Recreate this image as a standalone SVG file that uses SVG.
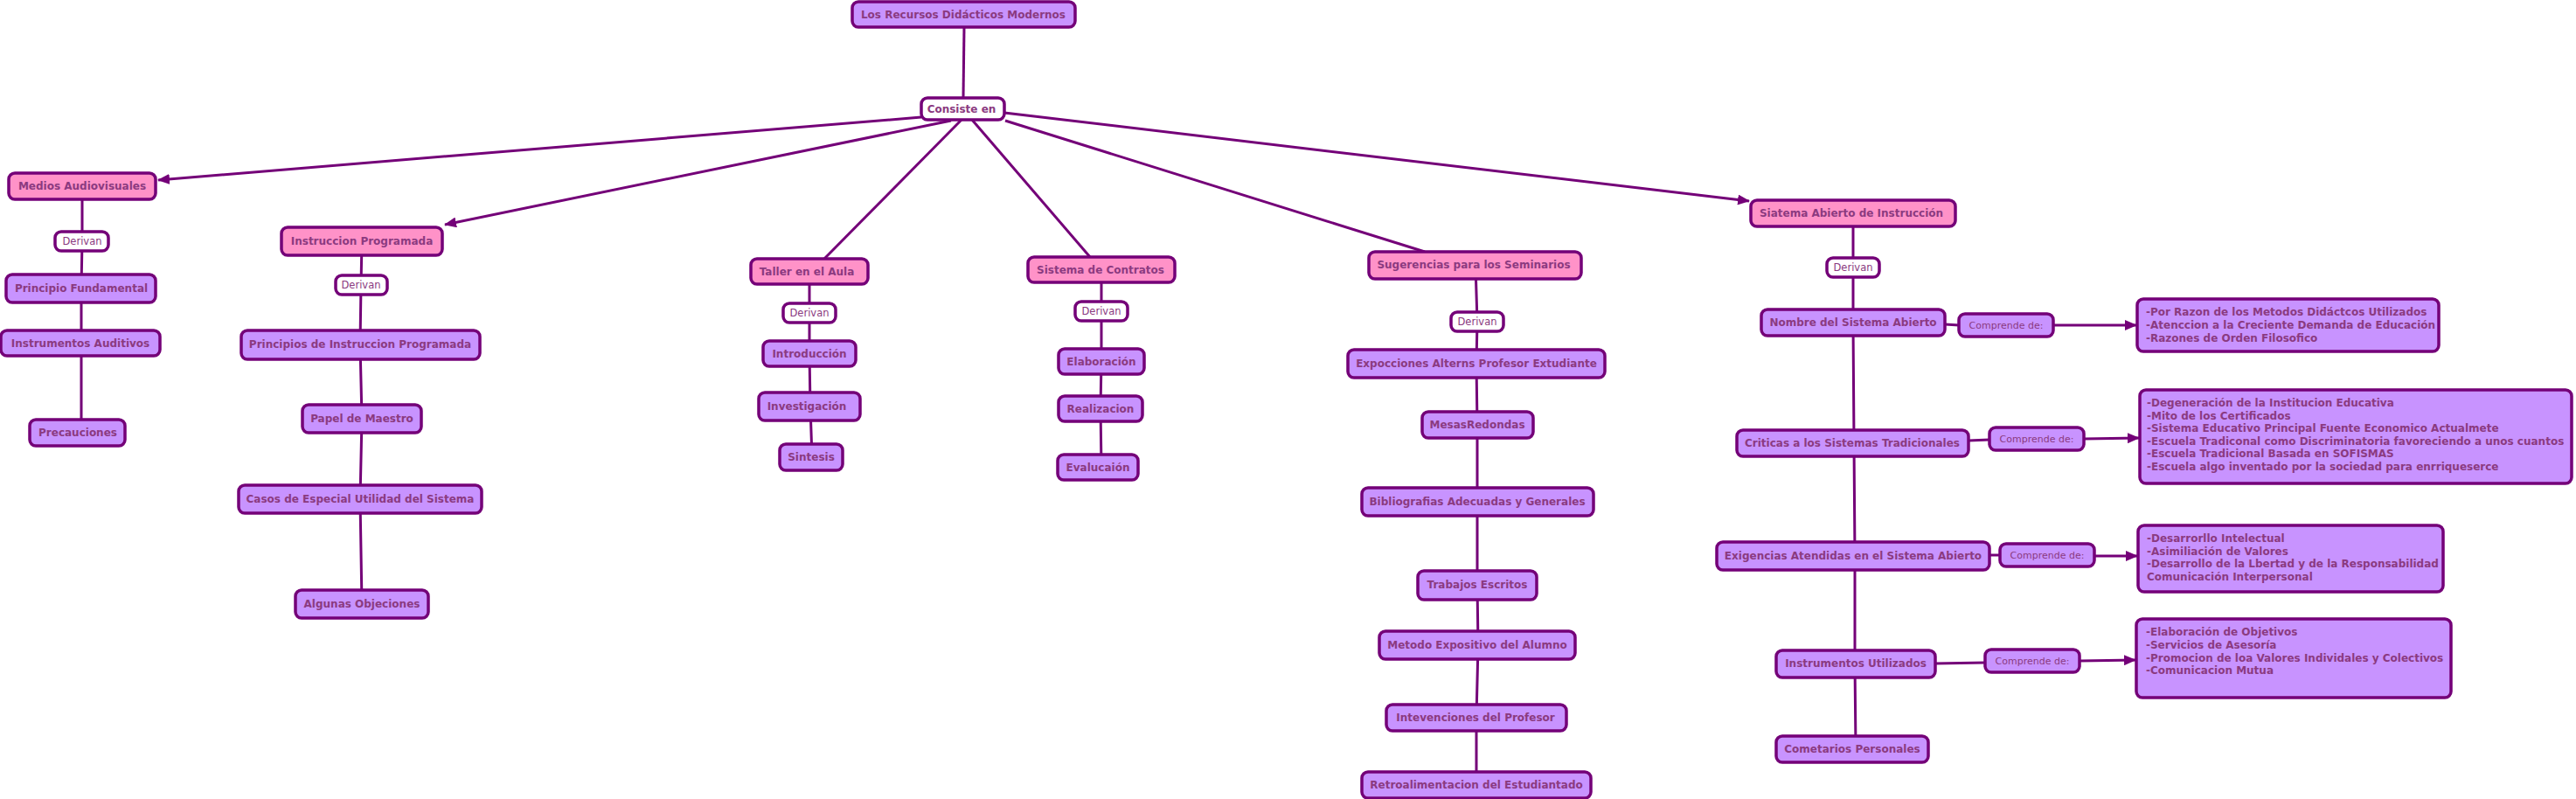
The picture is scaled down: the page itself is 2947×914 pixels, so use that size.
<svg xmlns="http://www.w3.org/2000/svg" width="2947" height="914" viewBox="0 0 2947 914">
<style>
.ln{stroke:#740078;stroke-width:3;fill:none}
.bx{stroke:#740078;stroke-width:3.5}
.pk{fill:#FF92C8}
.lv{fill:#C893FF}
.wh{fill:#FFFFFF}
.t{font-family:"DejaVu Sans",Verdana,sans-serif;font-size:12px;font-weight:bold;fill:#8B3A80;text-anchor:middle}
.tl{font-family:"DejaVu Sans",Verdana,sans-serif;font-size:12px;font-weight:bold;fill:#8B3A80}
.tn{font-family:"DejaVu Sans",Verdana,sans-serif;font-size:11.5px;fill:#8B3A80;text-anchor:middle}
.tc{font-family:"DejaVu Sans",Verdana,sans-serif;font-size:11px;fill:#8B3A80;text-anchor:middle}
</style>
<defs>
<marker id="ah" viewBox="0 0 14 12" refX="13" refY="6" markerWidth="14" markerHeight="12" markerUnits="userSpaceOnUse" orient="auto">
<path d="M0,0 L14,6 L0,12 z" fill="#740078"/>
</marker>
</defs>
<rect width="2947" height="914" fill="#FFFFFF"/>
<g id="connectors">
<line class="ln" x1="1103" y1="31" x2="1102" y2="112"/>
<line class="ln" x1="1054" y1="134" x2="181" y2="206" marker-end="url(#ah)"/>
<line class="ln" x1="1088" y1="138" x2="509" y2="257" marker-end="url(#ah)"/>
<line class="ln" x1="1100" y1="137" x2="943" y2="296"/>
<line class="ln" x1="1112" y1="137" x2="1247" y2="294"/>
<line class="ln" x1="1150" y1="138" x2="1630" y2="288"/>
<line class="ln" x1="1149" y1="129" x2="2001" y2="230" marker-end="url(#ah)"/>
<polyline class="ln" points="94,213 94,276 93,330 93,392 93,495"/>
<polyline class="ln" points="414,276 413,326 412,394 414,479 412,571 414,691"/>
<polyline class="ln" points="926,310 926,358 926,404 927,465 929,523"/>
<polyline class="ln" points="1260,308 1260,356 1260,413 1259,467 1260,534"/>
<polyline class="ln" points="1688,303 1690,368 1689,416 1690,486 1690,574 1690,669 1691,738 1689,821 1689,898"/>
<polyline class="ln" points="2120,244 2120,306 2120,369 2121,507 2122,636 2122,759 2123,857"/>
<line class="ln" x1="2225" y1="371" x2="2241" y2="372"/>
<line class="ln" x1="2349" y1="372" x2="2444" y2="372" marker-end="url(#ah)"/>
<line class="ln" x1="2252" y1="504" x2="2276" y2="503"/>
<line class="ln" x1="2384" y1="502" x2="2447" y2="501" marker-end="url(#ah)"/>
<line class="ln" x1="2276" y1="635" x2="2288" y2="635"/>
<line class="ln" x1="2396" y1="636" x2="2445" y2="636" marker-end="url(#ah)"/>
<line class="ln" x1="2214" y1="759" x2="2271" y2="758"/>
<line class="ln" x1="2379" y1="756" x2="2443" y2="755" marker-end="url(#ah)"/>
</g>
<g id="n-root"><rect class="bx lv" x="975" y="2" width="255" height="29" rx="7"/><text class="t" x="1102" y="21">Los Recursos Didácticos Modernos</text></g>
<g id="n-consiste"><rect class="bx wh" x="1054" y="112" width="95" height="25" rx="7"/><text class="t" x="1100" y="129">Consiste en</text></g>

<g id="n-medios"><rect class="bx pk" x="10" y="198" width="168" height="30" rx="7"/><text class="t" x="94" y="217">Medios Audiovisuales</text></g>
<g id="n-der1"><rect class="bx wh" x="63" y="265" width="61" height="22" rx="7"/><text class="tn" x="94" y="280">Derivan</text></g>
<g id="n-principio"><rect class="bx lv" x="7" y="314" width="171" height="32" rx="7"/><text class="t" x="93" y="334">Principio Fundamental</text></g>
<g id="n-instaud"><rect class="bx lv" x="1" y="378" width="182" height="29" rx="7"/><text class="t" x="92" y="397">Instrumentos Auditivos</text></g>
<g id="n-precauciones"><rect class="bx lv" x="34" y="480" width="109" height="30" rx="7"/><text class="t" x="89" y="499">Precauciones</text></g>

<g id="n-instprog"><rect class="bx pk" x="322" y="260" width="184" height="32" rx="7"/><text class="t" x="414" y="280">Instruccion Programada</text></g>
<g id="n-der2"><rect class="bx wh" x="384" y="315" width="59" height="22" rx="7"/><text class="tn" x="413" y="330">Derivan</text></g>
<g id="n-principios"><rect class="bx lv" x="276" y="378" width="273" height="33" rx="7"/><text class="t" x="412" y="398">Principios de Instruccion Programada</text></g>
<g id="n-papel"><rect class="bx lv" x="346" y="463" width="136" height="32" rx="7"/><text class="t" x="414" y="483">Papel de Maestro</text></g>
<g id="n-casos"><rect class="bx lv" x="273" y="555" width="278" height="32" rx="7"/><text class="t" x="412" y="575">Casos de Especial Utilidad del Sistema</text></g>
<g id="n-algunas"><rect class="bx lv" x="338" y="675" width="152" height="32" rx="7"/><text class="t" x="414" y="695">Algunas Objeciones</text></g>

<g id="n-taller"><rect class="bx pk" x="859" y="296" width="134" height="29" rx="7"/><text class="t" x="923" y="315">Taller en el Aula</text></g>
<g id="n-der3"><rect class="bx wh" x="896" y="347" width="60" height="22" rx="7"/><text class="tn" x="926" y="362">Derivan</text></g>
<g id="n-intro"><rect class="bx lv" x="873" y="390" width="106" height="29" rx="7"/><text class="t" x="926" y="409">Introducción</text></g>
<g id="n-invest"><rect class="bx lv" x="868" y="449" width="116" height="32" rx="7"/><text class="t" x="923" y="469">Investigación</text></g>
<g id="n-sintesis"><rect class="bx lv" x="892" y="508" width="72" height="30" rx="7"/><text class="t" x="928" y="527">Sintesis</text></g>

<g id="n-contratos"><rect class="bx pk" x="1176" y="294" width="168" height="29" rx="7"/><text class="t" x="1259" y="313">Sistema de Contratos</text></g>
<g id="n-der4"><rect class="bx wh" x="1230" y="345" width="60" height="22" rx="7"/><text class="tn" x="1260" y="360">Derivan</text></g>
<g id="n-elab"><rect class="bx lv" x="1211" y="399" width="98" height="29" rx="7"/><text class="t" x="1260" y="418">Elaboración</text></g>
<g id="n-realiz"><rect class="bx lv" x="1211" y="453" width="96" height="29" rx="7"/><text class="t" x="1259" y="472">Realizacion</text></g>
<g id="n-evalu"><rect class="bx lv" x="1210" y="520" width="92" height="29" rx="7"/><text class="t" x="1256" y="539">Evalucaión</text></g>

<g id="n-sugerencias"><rect class="bx pk" x="1566" y="288" width="243" height="31" rx="7"/><text class="t" x="1686" y="307">Sugerencias para los Seminarios</text></g>
<g id="n-der5"><rect class="bx wh" x="1660" y="357" width="60" height="22" rx="7"/><text class="tn" x="1690" y="372">Derivan</text></g>
<g id="n-expoc"><rect class="bx lv" x="1542" y="400" width="294" height="32" rx="7"/><text class="t" x="1689" y="420">Expocciones Alterns Profesor Extudiante</text></g>
<g id="n-mesas"><rect class="bx lv" x="1627" y="471" width="127" height="30" rx="7"/><text class="t" x="1690" y="490">MesasRedondas</text></g>
<g id="n-biblio"><rect class="bx lv" x="1558" y="558" width="265" height="32" rx="7"/><text class="t" x="1690" y="578">Bibliografias Adecuadas y Generales</text></g>
<g id="n-trabajos"><rect class="bx lv" x="1622" y="653" width="136" height="33" rx="7"/><text class="t" x="1690" y="673">Trabajos Escritos</text></g>
<g id="n-metodo"><rect class="bx lv" x="1578" y="722" width="224" height="32" rx="7"/><text class="t" x="1690" y="742">Metodo Expositivo del Alumno</text></g>
<g id="n-interv"><rect class="bx lv" x="1586" y="806" width="206" height="30" rx="7"/><text class="t" x="1688" y="825">Intevenciones del Profesor</text></g>
<g id="n-retro"><rect class="bx lv" x="1558" y="883" width="262" height="30" rx="7"/><text class="t" x="1689" y="902">Retroalimentacion del Estudiantado</text></g>

<g id="n-siatema"><rect class="bx pk" x="2003" y="229" width="234" height="30" rx="7"/><text class="t" x="2118" y="248">Siatema Abierto de Instrucción</text></g>
<g id="n-der6"><rect class="bx wh" x="2090" y="295" width="60" height="22" rx="7"/><text class="tn" x="2120" y="310">Derivan</text></g>
<g id="n-nombre"><rect class="bx lv" x="2015" y="354" width="210" height="30" rx="7"/><text class="t" x="2120" y="373">Nombre del Sistema Abierto</text></g>
<g id="n-comp1"><rect class="bx lv" x="2241" y="359" width="108" height="26" rx="7"/><text class="tc" x="2295" y="376">Comprende de:</text></g>
<g id="n-box1"><rect class="bx lv" x="2445" y="342" width="345" height="60" rx="7"/>
<text class="tl" x="2455" y="361">-Por Razon de los Metodos Didáctcos Utilizados</text>
<text class="tl" x="2455" y="376">-Atenccion a la Creciente Demanda de Educación</text>
<text class="tl" x="2455" y="391">-Razones de Orden Filosofico</text></g>
<g id="n-criticas"><rect class="bx lv" x="1987" y="492" width="265" height="30" rx="7"/><text class="t" x="2119" y="511">Criticas a los Sistemas Tradicionales</text></g>
<g id="n-comp2"><rect class="bx lv" x="2276" y="489" width="108" height="26" rx="7"/><text class="tc" x="2330" y="506">Comprende de:</text></g>
<g id="n-box2"><rect class="bx lv" x="2448" y="446" width="494" height="107" rx="7"/>
<text class="tl" x="2456" y="465">-Degeneración de la Institucion Educativa</text>
<text class="tl" x="2456" y="479.5">-Mito de los Certificados</text>
<text class="tl" x="2456" y="494">-Sistema Educativo Principal Fuente Economico Actualmete</text>
<text class="tl" x="2456" y="508.5">-Escuela Tradiconal como Discriminatoria favoreciendo a unos cuantos</text>
<text class="tl" x="2456" y="523">-Escuela Tradicional Basada en SOFISMAS</text>
<text class="tl" x="2456" y="537.5">-Escuela algo inventado por la sociedad para enrriqueserce</text></g>
<g id="n-exig"><rect class="bx lv" x="1964" y="620" width="312" height="32" rx="7"/><text class="t" x="2120" y="640">Exigencias Atendidas en el Sistema Abierto</text></g>
<g id="n-comp3"><rect class="bx lv" x="2288" y="622" width="108" height="26" rx="7"/><text class="tc" x="2342" y="639">Comprende de:</text></g>
<g id="n-box3"><rect class="bx lv" x="2446" y="601" width="349" height="76" rx="7"/>
<text class="tl" x="2456" y="620">-Desarrorllo Intelectual</text>
<text class="tl" x="2456" y="634.5">-Asimiliación de Valores</text>
<text class="tl" x="2456" y="649">-Desarrollo de la Lbertad y de la Responsabilidad</text>
<text class="tl" x="2456" y="664">Comunicación Interpersonal</text></g>
<g id="n-instutil"><rect class="bx lv" x="2032" y="744" width="182" height="31" rx="7"/><text class="t" x="2123" y="763">Instrumentos Utilizados</text></g>
<g id="n-comp4"><rect class="bx lv" x="2271" y="743" width="108" height="26" rx="7"/><text class="tc" x="2325" y="760">Comprende de:</text></g>
<g id="n-box4"><rect class="bx lv" x="2444" y="708" width="360" height="90" rx="7"/>
<text class="tl" x="2455" y="727">-Elaboración de Objetivos</text>
<text class="tl" x="2455" y="742">-Servicios de Asesoría</text>
<text class="tl" x="2455" y="757">-Promocion de loa Valores Individales y Colectivos</text>
<text class="tl" x="2455" y="771">-Comunicacion Mutua</text></g>
<g id="n-cometarios"><rect class="bx lv" x="2032" y="842" width="174" height="30" rx="7"/><text class="t" x="2119" y="861">Cometarios Personales</text></g>
</svg>
